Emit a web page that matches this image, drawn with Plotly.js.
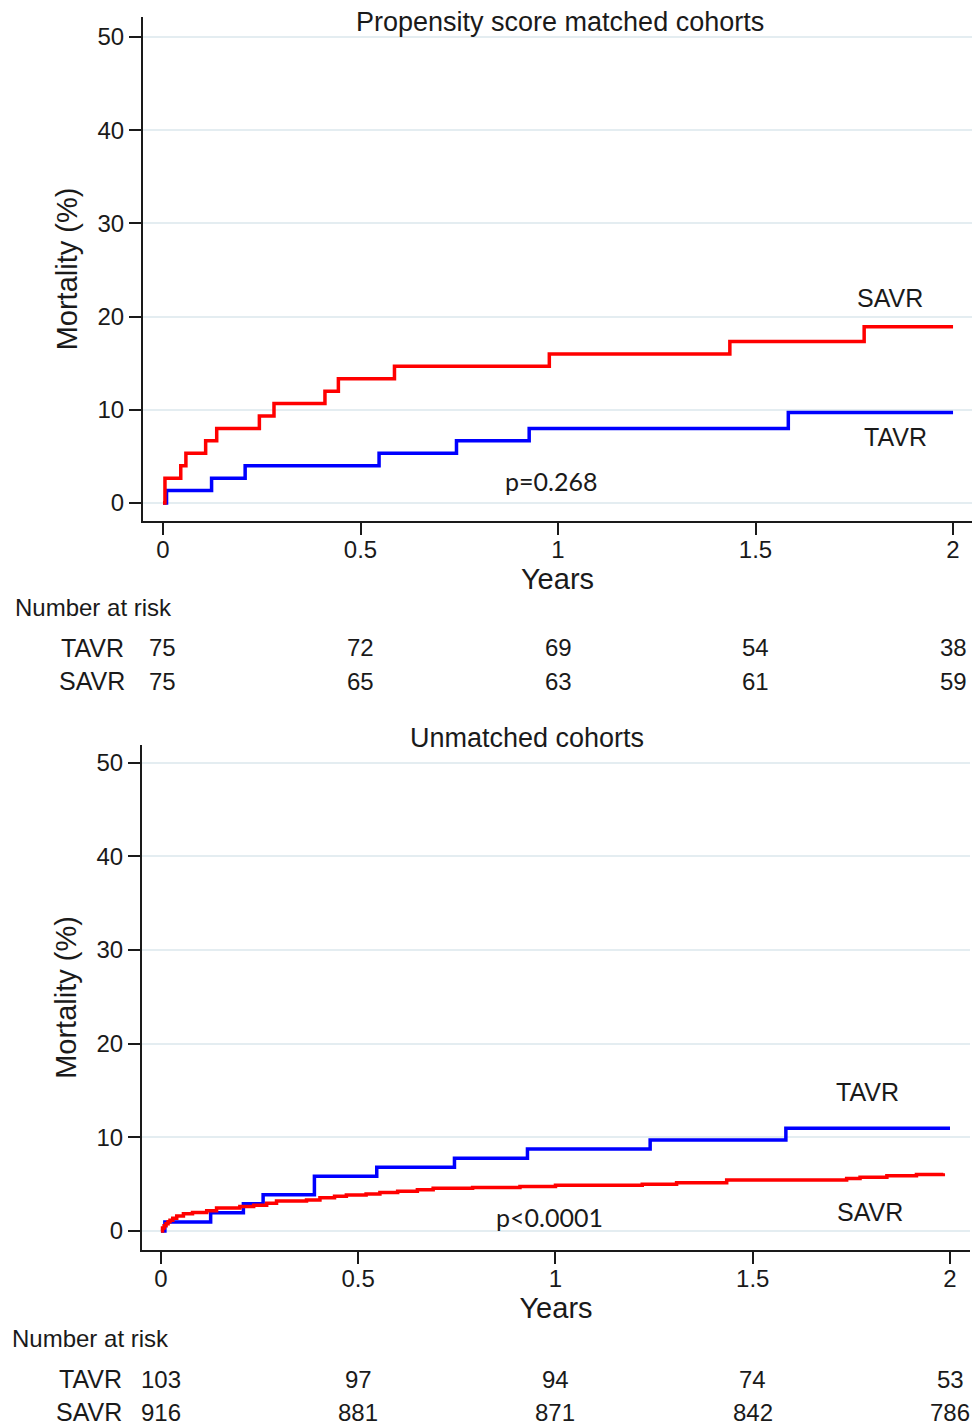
<!DOCTYPE html>
<html>
<head>
<meta charset="utf-8">
<script src="https://cdn.plot.ly/plotly-3.0.1.min.js"></script>
<style>html,body{margin:0;padding:0;background:#fff;}#chart{width:976px;height:1425px;}</style>
</head>
<body>
<div id="chart"></div>
<script>
// ---- Data ----
const xTickVals = [0, 0.5, 1, 1.5, 2];
const xTickText = ["0", "0.5", "1", "1.5", "2"];
const yTickVals = [0, 10, 20, 30, 40, 50];

// Top panel: propensity score matched cohorts
const matchedTavrT = [0, 0.009, 0.123, 0.208, 0.547, 0.743, 0.927, 1.583, 2.0];
const matchedTavrV = [0, 1.33, 2.67, 4.0, 5.33, 6.67, 8.0, 9.7, 9.7];
const matchedSavrT = [0, 0.005, 0.045, 0.058, 0.108, 0.136, 0.244, 0.281, 0.410, 0.444, 0.586, 0.978, 1.435, 1.775, 2.0];
const matchedSavrV = [0, 2.67, 4.0, 5.33, 6.67, 8.0, 9.33, 10.67, 12.0, 13.33, 14.67, 16.0, 17.33, 18.9, 18.9];
const matchedRiskTavr = ["75", "72", "69", "54", "38"];
const matchedRiskSavr = ["75", "65", "63", "61", "59"];

// Bottom panel: unmatched cohorts
const unmatchedTavrT = [0, 0.01, 0.126, 0.209, 0.259, 0.389, 0.547, 0.744, 0.929, 1.24, 1.584, 2.0];
const unmatchedTavrV = [0, 0.97, 1.94, 2.91, 3.88, 5.83, 6.8, 7.77, 8.74, 9.71, 10.97, 10.97];
const unmatchedSavrT = [0, 0.004, 0.008, 0.013, 0.018, 0.023, 0.03, 0.04, 0.057, 0.08, 0.116, 0.141, 0.2, 0.235, 0.268, 0.293, 0.369, 0.403, 0.44, 0.47, 0.52, 0.555, 0.6, 0.65, 0.69, 0.79, 0.91, 1.0, 1.22, 1.307, 1.434, 1.738, 1.772, 1.84, 1.915, 1.983];
const unmatchedSavrV = [0, 0.33, 0.55, 0.76, 0.98, 1.15, 1.35, 1.6, 1.85, 1.96, 2.17, 2.45, 2.6, 2.75, 2.95, 3.2, 3.3, 3.55, 3.7, 3.85, 3.95, 4.1, 4.25, 4.4, 4.55, 4.65, 4.74, 4.87, 4.98, 5.15, 5.45, 5.6, 5.73, 5.9, 6.02, 6.16];
const unmatchedRiskTavr = ["103", "97", "94", "74", "53"];
const unmatchedRiskSavr = ["916", "881", "871", "842", "786"];

const groupNames = ["TAVR", "SAVR"];
const panelTitles = ["Propensity score matched cohorts", "Unmatched cohorts"];
const pValues = ["p=0.268", "p<0.0001"];

// ---- Layout helpers ----
const W = 976, H = 1425;
const px = x => x / W;
const py = y => 1 - y / H;
const FONT = "Liberation Sans, Arial, sans-serif";
const INK = "#1a1a1a";
const RED = "#ff0000", BLUE = "#0000ff";

function stepTrace(x, y, color, xa, ya) {
  return {x: x, y: y, type: "scatter", mode: "lines", line: {shape: "hv", color: color, width: 3.5},
          xaxis: xa, yaxis: ya, showlegend: false, hoverinfo: "skip"};
}

const traces = [
  stepTrace(matchedTavrT, matchedTavrV, BLUE, "x", "y"),
  stepTrace(matchedSavrT, matchedSavrV, RED, "x", "y"),
  stepTrace(unmatchedTavrT, unmatchedTavrV, BLUE, "x2", "y2"),
  stepTrace(unmatchedSavrT, unmatchedSavrV, RED, "x2", "y2")
];

function xAxis(domain, range, anchor) {
  return {domain: domain, range: range, anchor: anchor, tickmode: "array", tickvals: xTickVals, ticktext: xTickText,
          showgrid: false, zeroline: false, showline: true, linecolor: INK, linewidth: 2,
          ticks: "outside", ticklen: 12, tickwidth: 2, tickcolor: INK, ticklabelstandoff: -6,
          tickfont: {family: FONT, size: 24, color: INK},
          title: {text: "Years", font: {family: FONT, size: 29, color: INK}, standoff: 5}};
}
function yAxis(domain, range, anchor) {
  return {domain: domain, range: range, anchor: anchor, tickmode: "array", tickvals: yTickVals,
          showgrid: true, gridcolor: "#e4edf1", gridwidth: 2, zeroline: false,
          showline: true, linecolor: INK, linewidth: 2,
          ticks: "outside", ticklen: 12, tickwidth: 2, tickcolor: INK,
          tickfont: {family: FONT, size: 24, color: INK},
          title: {text: "Mortality (%)", font: {family: FONT, size: 29, color: INK}, standoff: 11}};
}

const ann = [];
function txt(text, x, y, size, xanchor, font, xref) {
  ann.push({text: text, x: x, y: y, xref: xref || "paper", yref: "paper", showarrow: false,
            xanchor: xanchor || "center", yanchor: "middle",
            font: {family: font || FONT, size: size, color: INK}});
}
// Panel titles
txt(panelTitles[0], px(560), py(22), 27);
txt(panelTitles[1], px(527), py(738), 27);
// Curve labels
txt(groupNames[1], px(890), py(298), 25);
txt(groupNames[0], px(895), py(437), 25);
txt(groupNames[0], px(867), py(1092), 25);
txt(groupNames[1], px(870), py(1212), 25);
// p-values
txt(pValues[0], px(551), py(481), 25, "center", "Lato, Open Sans, sans-serif");
txt(pValues[1], px(549), py(1217), 25, "center", "Lato, Open Sans, sans-serif");
// Number at risk tables
txt("Number at risk", px(13), py(607), 24, "left");
txt(groupNames[0], px(126), py(648), 25, "right");
txt(groupNames[1], px(127), py(681), 25, "right");
txt("Number at risk", px(10), py(1338), 24, "left");
txt(groupNames[0], px(124), py(1379), 25, "right");
txt(groupNames[1], px(124), py(1412), 25, "right");
xTickVals.forEach((t, i) => {
  txt(matchedRiskTavr[i], t, py(648), 24, "center", FONT, "x");
  txt(matchedRiskSavr[i], t, py(681), 24, "center", FONT, "x");
  txt(unmatchedRiskTavr[i], t, py(1379), 24, "center", FONT, "x2");
  txt(unmatchedRiskSavr[i], t, py(1412), 24, "center", FONT, "x2");
});

const layout = {
  width: W, height: H,
  margin: {l: 0, r: 0, t: 0, b: 0},
  paper_bgcolor: "#ffffff", plot_bgcolor: "#ffffff",
  showlegend: false,
  xaxis: xAxis([px(143), px(972)], [-0.0506, 2.048], "y"),
  yaxis: yAxis([py(521), py(17)], [-1.93, 52.15], "x"),
  xaxis2: xAxis([px(142), px(970)], [-0.048, 2.0507], "y2"),
  yaxis2: yAxis([py(1250), py(745)], [-2.03, 51.87], "x2"),
  annotations: ann
};

Plotly.newPlot("chart", traces, layout, {displayModeBar: false, staticPlot: true});
</script>
</body>
</html>
